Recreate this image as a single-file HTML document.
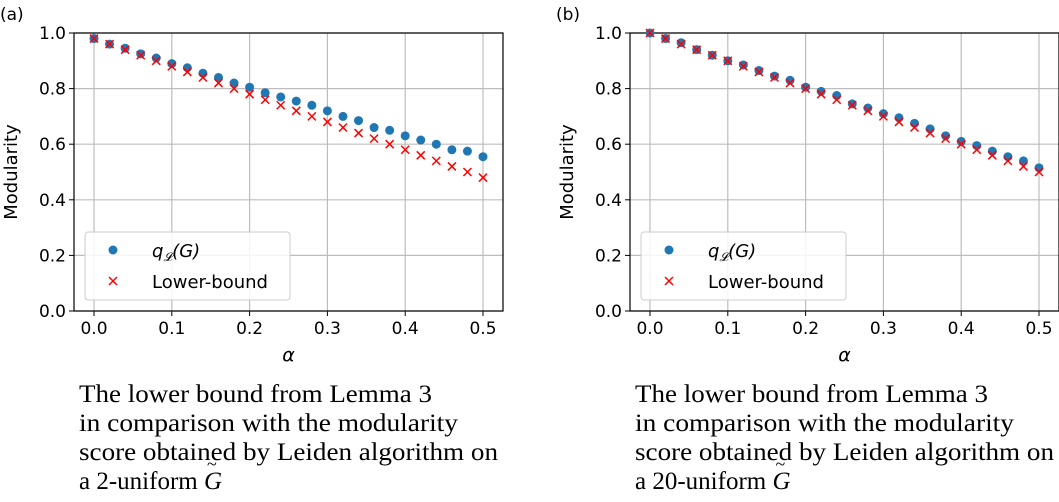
<!DOCTYPE html>
<html><head><meta charset="utf-8"><style>
body{margin:0;background:#fff;}
svg text{font-family:"DejaVu Sans","Liberation Sans",sans-serif;}
.cap{font-family:"Liberation Serif","DejaVu Serif",serif;font-size:25px;}
</style></head><body>
<svg id="chart" width="1059" height="497" xmlns="http://www.w3.org/2000/svg"></svg>
<script>
const alphas=[0,0.02,0.04,0.06,0.08,0.1,0.12,0.14,0.16,0.18,0.2,0.22,0.24,0.26,0.28,0.3,0.32,0.34,0.36,0.38,0.4,0.42,0.44,0.46,0.48,0.5];
const qLeft=[0.98,0.96,0.945,0.925,0.91,0.89,0.875,0.855,0.84,0.82,0.805,0.785,0.77,0.755,0.74,0.72,0.70,0.685,0.66,0.65,0.63,0.615,0.60,0.58,0.575,0.555];
const lbLeft=[0.98,0.96,0.94,0.92,0.90,0.88,0.86,0.84,0.82,0.80,0.78,0.76,0.74,0.72,0.70,0.68,0.66,0.64,0.62,0.60,0.58,0.56,0.54,0.52,0.50,0.48];
const qRight=[1.0,0.98,0.965,0.94,0.92,0.90,0.885,0.865,0.845,0.83,0.805,0.79,0.775,0.745,0.73,0.71,0.695,0.675,0.655,0.63,0.61,0.595,0.575,0.555,0.54,0.515];
const lbRight=[1.0,0.98,0.96,0.94,0.92,0.90,0.88,0.86,0.84,0.82,0.80,0.78,0.76,0.74,0.72,0.70,0.68,0.66,0.64,0.62,0.60,0.58,0.56,0.54,0.52,0.50];
const xTicks=[0,0.1,0.2,0.3,0.4,0.5];
const xTickLabels=["0.0","0.1","0.2","0.3","0.4","0.5"];
const yTicks=[0,0.2,0.4,0.6,0.8,1.0];
const yTickLabels=["0.0","0.2","0.4","0.6","0.8","1.0"];
const NS="http://www.w3.org/2000/svg";
const svg=document.getElementById('chart');
function mk(tag,attrs,parent,text){const e=document.createElementNS(NS,tag);for(const k in attrs)e.setAttribute(k,attrs[k]);if(text!==undefined)e.textContent=text;(parent||svg).appendChild(e);return e;}
function panel(px,label,q,lb,capNum,name){
  const g=mk('g',{});
  
  
  const L=px,R=px+429,T=33,B=311;
  const x0=px+20,x5=px+409;
  const sx=v=>x0+(x5-x0)*v/0.5;
  const sy=v=>B-(B-T)*v;
  xTicks.forEach((t,i)=>{
    const l=mk('line',{x1:sx(t),x2:sx(t),y1:T,y2:B,stroke:'#bdbdbd','stroke-width':1.2},g);
    
    mk('line',{x1:sx(t),x2:sx(t),y1:B,y2:B+5,stroke:'#000'},g);
    const tx=mk('text',{x:sx(t),y:B+23,'text-anchor':'middle','font-size':17},g,xTickLabels[i]);
    
  });
  yTicks.forEach((t,i)=>{
    const l=mk('line',{x1:L,x2:R,y1:sy(t),y2:sy(t),stroke:'#bdbdbd','stroke-width':1.2},g);
    
    mk('line',{x1:L-5,x2:L,y1:sy(t),y2:sy(t),stroke:'#000'},g);
    const tx=mk('text',{x:L-8,y:sy(t)+6,'text-anchor':'end','font-size':17},g,yTickLabels[i]);
    
  });
  const fr=mk('rect',{x:L,y:T,width:R-L,height:B-T,fill:'none',stroke:'#000','stroke-width':1.2},g);
  
  alphas.forEach((a,i)=>{
    const c=mk('circle',{cx:sx(a),cy:sy(q[i]),r:4.5,fill:'#1f77b4'},g);
    
  });
  alphas.forEach((a,i)=>{
    const X=sx(a),Y=sy(lb[i]),d=4;
    const p=mk('path',{d:`M${X-d},${Y-d}L${X+d},${Y+d}M${X-d},${Y+d}L${X+d},${Y-d}`,stroke:'#ff0000','stroke-width':1.5},g);
    
  });
  const lg=mk('g',{},g);
  
  mk('rect',{x:L+11,y:232,width:205,height:68,rx:3,fill:'#fff','fill-opacity':0.85,stroke:'#ccc'},lg);
  mk('circle',{cx:L+39,cy:250,r:4.5,fill:'#1f77b4'},lg);
  const t1=mk('text',{x:L+78,y:257,'font-size':18,'font-style':'italic'},lg);
  t1.innerHTML='q<tspan font-size="12" dy="4">𝓛</tspan><tspan dy="-4">(G)</tspan>';
  
  mk('path',{d:`M${L+35},${277}L${L+43},${285}M${L+35},${285}L${L+43},${277}`,stroke:'#f00','stroke-width':1.5},lg);
  const t2=mk('text',{x:L+78,y:288,'font-size':18},lg,'Lower-bound');
  
  const xl=mk('text',{x:(L+R)/2,y:361,'text-anchor':'middle','font-size':19,'font-style':'italic'},g,'α');
  
  const yl=mk('text',{x:0,y:0,'text-anchor':'middle','font-size':18,transform:`translate(${L-57},${(T+B)/2}) rotate(-90)`},g,'Modularity');
  
  const pl=mk('text',{x:px-74,y:20,'font-size':17},g,label);
  
  const lines=['The lower bound from Lemma 3','in comparison with the modularity','score obtained by Leiden algorithm on','a '+capNum+'-uniform '];
  const lens=[353,379,419,null];
  const ys=[402,431,460,489];
  lines.forEach((s,i)=>{
    const at={x:px+5,y:ys[i],class:'cap'};
    if(lens[i]){at.textLength=lens[i];at.lengthAdjust='spacingAndGlyphs';}
    const c=mk('text',at,g,s);
    
    if(i==3){mk('tspan',{'font-style':'italic'},c,'G');mk('tspan',{dx:-15,dy:-19,'font-size':18},c,'~');}
  });
}
panel(74,'(a)',qLeft,lbLeft,'2','panel-a');
panel(630,'(b)',qRight,lbRight,'20','panel-b');
</script>
</body></html>
